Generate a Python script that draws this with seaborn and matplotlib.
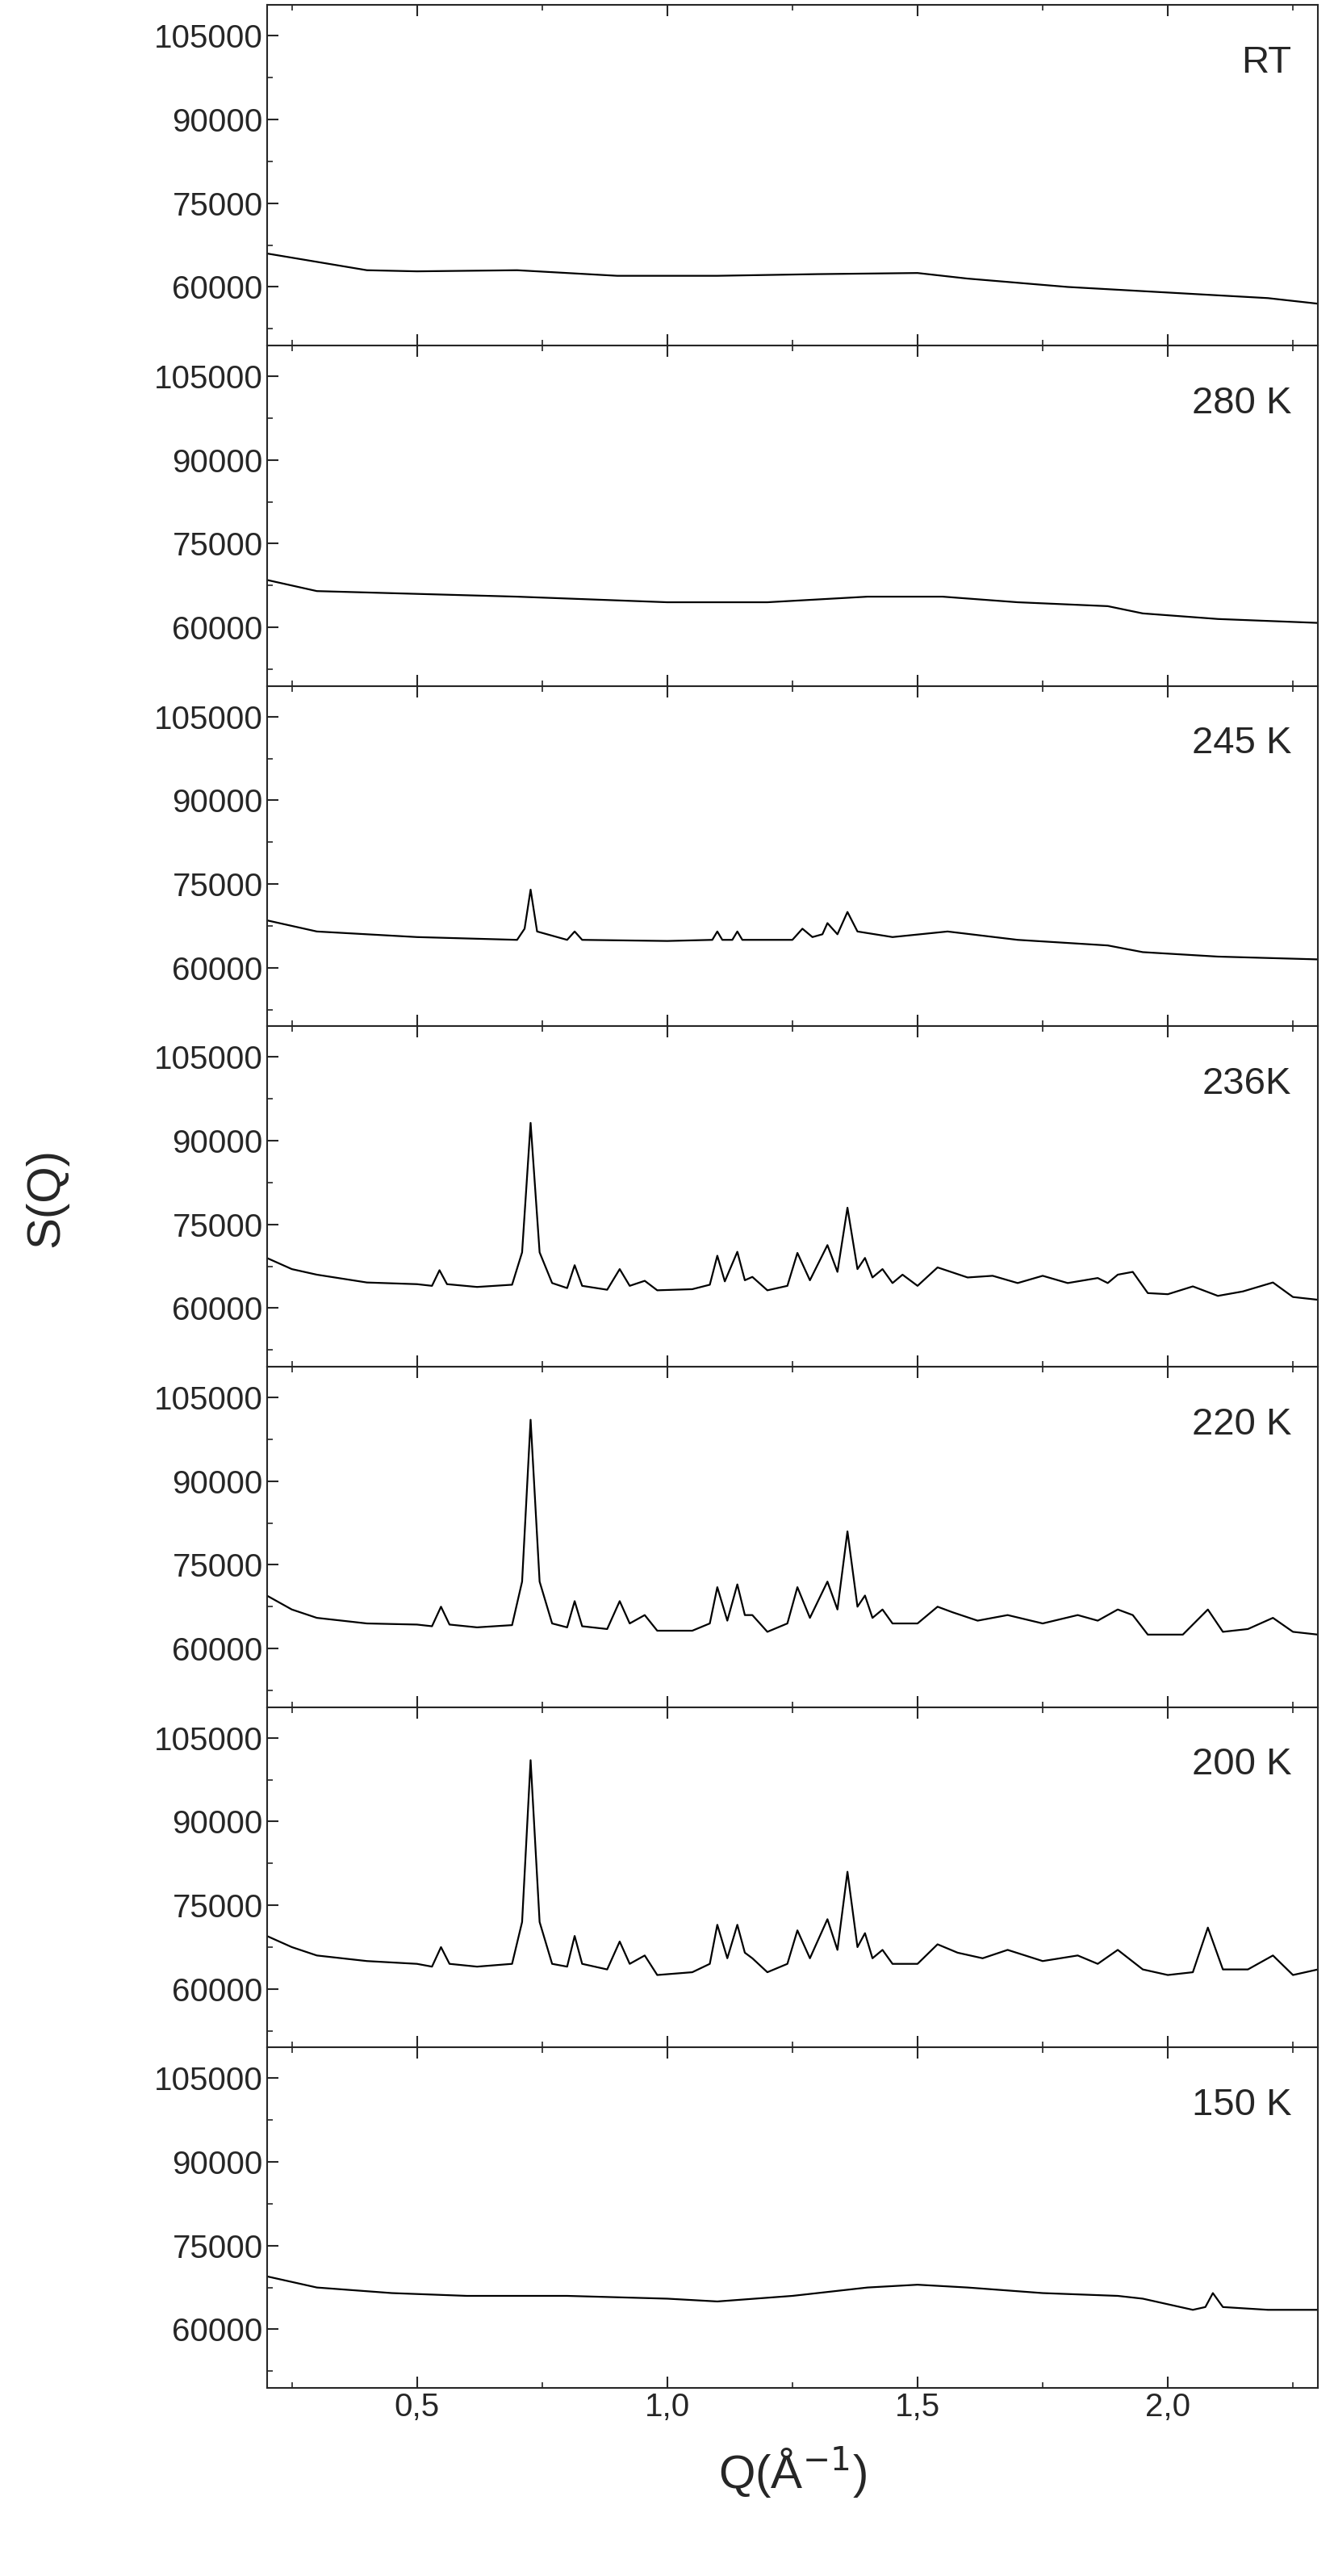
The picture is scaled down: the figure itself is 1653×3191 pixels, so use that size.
import matplotlib
matplotlib.use("Agg")
import matplotlib.pyplot as plt
import seaborn as sns
import pandas as pd
from matplotlib.ticker import FuncFormatter, MultipleLocator

sns.set_style("ticks")
plt.rcParams['font.family'] = ['Liberation Sans', 'DejaVu Sans']

# values
labels = ['RT', '280 K', '245 K', '236K', '220 K', '200 K', '150 K']

q_rt = [0.20, 0.30, 0.40, 0.50, 0.70, 0.90, 1.10, 1.30, 1.50, 1.60, 1.80, 2.00, 2.20, 2.30]
s_rt = [66000, 64500, 63000, 62800, 63000, 62000, 62000, 62300, 62500, 61500, 60000, 59000, 58000, 57000]

q_280 = [0.20, 0.30, 0.50, 0.70, 1.00, 1.20, 1.40, 1.55, 1.70, 1.88, 1.95, 2.10, 2.30]
s_280 = [68500, 66500, 66000, 65500, 64500, 64500, 65500, 65500, 64500, 63800, 62500, 61500, 60800]

q_245 = [0.20, 0.30, 0.50, 0.70, 0.715, 0.727, 0.74, 0.80, 0.815, 0.83, 1.00, 1.09, 1.10, 1.11,
         1.13, 1.14, 1.15, 1.25, 1.27, 1.29, 1.31, 1.32, 1.34, 1.36, 1.38, 1.45, 1.56, 1.70,
         1.88, 1.95, 2.10, 2.30]
s_245 = [68500, 66500, 65500, 65000, 67000, 74000, 66500, 65000, 66500, 65000, 64800, 65000, 66500,
         65000, 65000, 66500, 65000, 65000, 67000, 65500, 66000, 68000, 66000, 70000, 66500,
         65500, 66500, 65000, 64000, 62800, 62000, 61500]

q_236 = [0.20, 0.25, 0.30, 0.40, 0.50, 0.53, 0.545, 0.56, 0.62, 0.69, 0.71, 0.727, 0.745, 0.77,
         0.80, 0.815, 0.83, 0.88, 0.905, 0.925, 0.955, 0.98, 1.05, 1.085, 1.10, 1.115, 1.14,
         1.155, 1.17, 1.20, 1.24, 1.26, 1.285, 1.32, 1.34, 1.36, 1.38, 1.395, 1.41, 1.43, 1.45,
         1.47, 1.50, 1.54, 1.60, 1.65, 1.70, 1.75, 1.80, 1.86, 1.88, 1.90, 1.93, 1.96, 2.00,
         2.05, 2.10, 2.15, 2.21, 2.25, 2.30]
s_236 = [69000, 67000, 66000, 64600, 64300, 64000, 66800, 64300, 63800, 64200, 70000, 93200, 70000,
         64500, 63600, 67700, 64000, 63300, 67000, 64000, 64900, 63200, 63400, 64200, 69400,
         64800, 70100, 65000, 65600, 63200, 64000, 69900, 65000, 71300, 66500, 78000, 67000,
         69000, 65500, 67000, 64500, 66000, 64000, 67300, 65500, 65800, 64500, 65800, 64500,
         65400, 64500, 66000, 66500, 62700, 62500, 63900, 62200, 63000, 64600, 62000, 61500]

q_220 = [0.20, 0.25, 0.30, 0.40, 0.50, 0.53, 0.548, 0.565, 0.62, 0.69, 0.71, 0.727, 0.745, 0.77,
         0.80, 0.815, 0.83, 0.88, 0.905, 0.925, 0.955, 0.98, 1.05, 1.085, 1.10, 1.12, 1.14,
         1.155, 1.17, 1.20, 1.24, 1.26, 1.285, 1.32, 1.34, 1.36, 1.38, 1.395, 1.41, 1.43, 1.45,
         1.50, 1.54, 1.57, 1.62, 1.68, 1.75, 1.82, 1.86, 1.90, 1.93, 1.96, 2.03, 2.08, 2.11,
         2.16, 2.21, 2.25, 2.30]
s_220 = [69500, 67000, 65500, 64500, 64300, 64000, 67500, 64300, 63800, 64200, 72000, 101000, 72000,
         64500, 63800, 68500, 64000, 63500, 68500, 64500, 66000, 63200, 63200, 64500, 71000,
         65000, 71500, 66000, 66000, 63000, 64500, 71000, 65500, 72000, 67000, 81000, 67500,
         69500, 65500, 67000, 64500, 64500, 67500, 66500, 65000, 66000, 64500, 66000, 65000,
         67000, 66000, 62500, 62500, 67000, 63000, 63500, 65500, 63000, 62500]

q_200 = [0.20, 0.25, 0.30, 0.40, 0.50, 0.53, 0.548, 0.565, 0.62, 0.69, 0.71, 0.727, 0.745, 0.77,
         0.80, 0.815, 0.83, 0.88, 0.905, 0.925, 0.955, 0.98, 1.05, 1.085, 1.10, 1.12, 1.14,
         1.155, 1.17, 1.20, 1.24, 1.26, 1.285, 1.32, 1.34, 1.36, 1.38, 1.395, 1.41, 1.43, 1.45,
         1.50, 1.54, 1.58, 1.63, 1.68, 1.75, 1.82, 1.86, 1.90, 1.95, 2.00, 2.05, 2.08, 2.11,
         2.16, 2.21, 2.25, 2.30]
s_200 = [69500, 67500, 66000, 65000, 64500, 64000, 67500, 64500, 64000, 64500, 72000, 101000, 72000,
         64500, 64000, 69500, 64500, 63500, 68500, 64500, 66000, 62500, 63000, 64500, 71500,
         65500, 71500, 66500, 65500, 63000, 64500, 70500, 65500, 72500, 67000, 81000, 67500,
         70000, 65500, 67000, 64500, 64500, 68000, 66500, 65500, 67000, 65000, 66000, 64500,
         67000, 63500, 62500, 63000, 71000, 63500, 63500, 66000, 62500, 63500]

q_150 = [0.20, 0.30, 0.45, 0.60, 0.80, 1.00, 1.10, 1.25, 1.40, 1.50, 1.60, 1.75, 1.90, 1.95, 2.05,
         2.075, 2.09, 2.11, 2.20, 2.30]
s_150 = [69500, 67500, 66500, 66000, 66000, 65500, 65000, 66000, 67500, 68000, 67500, 66500, 66000,
         65500, 63500, 64000, 66500, 64000, 63500, 63500]

series = [(q_rt, s_rt), (q_280, s_280), (q_245, s_245), (q_236, s_236),
          (q_220, s_220), (q_200, s_200), (q_150, s_150)]

fig, axes = plt.subplots(len(labels), 1, figsize=(16.53, 31.91), dpi=100, sharex=True)
fig.subplots_adjust(left=0.20, right=0.988, top=0.998, bottom=0.073, hspace=0)

comma = FuncFormatter(lambda v, p: f"{v:.1f}".replace('.', ','))
for ax, lab, (q, s) in zip(axes, labels, series):
    df = pd.DataFrame({'Q': q, 'S': s})
    sns.lineplot(data=df, x='Q', y='S', ax=ax, color='black', linewidth=1.6)
    ax.set_xlim(0.2, 2.3)
    ax.set_ylim(49500, 110500)
    ax.set_yticks([60000, 75000, 90000, 105000])
    ax.yaxis.set_minor_locator(MultipleLocator(7500))
    ax.xaxis.set_major_locator(MultipleLocator(0.5))
    ax.xaxis.set_minor_locator(MultipleLocator(0.25))
    ax.xaxis.set_major_formatter(comma)
    ax.tick_params(axis='both', which='major', labelsize=29, length=10, width=1.5, direction='in',
                   top=True)
    ax.tick_params(axis='both', which='minor', length=5, width=1.2, direction='in', top=True)
    ax.set_xlabel('')
    ax.set_ylabel('')
    for sp in ax.spines.values():
        sp.set_linewidth(1.5)
    ax.text(0.975, 0.83, lab, transform=ax.transAxes, ha='right', va='center', fontsize=34)

axes[-1].set_xlabel('Q(Å$^{-1}$)', fontsize=42, labelpad=20)
fig.text(0.035, 0.535, 'S(Q)', rotation=90, fontsize=42, ha='center', va='center')
fig.savefig('out.png', dpi=100)
